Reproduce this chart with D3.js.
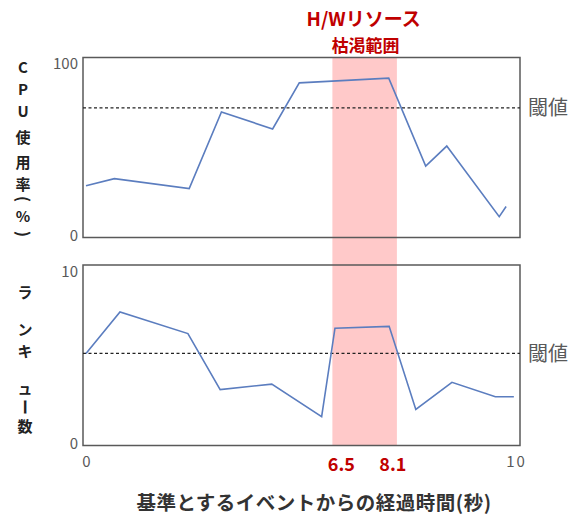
<!DOCTYPE html>
<html>
<head>
<meta charset="utf-8">
<script src="https://cdn.jsdelivr.net/npm/d3@7"></script>
<style>
  body { margin: 0; background: #fff; }
  svg text { font-family: "Noto Sans CJK JP", "Noto Sans", sans-serif; }
</style>
</head>
<body>
<svg width="576" height="517"></svg>
<script>
// data
const cpuTime = [0, 0.66, 2.40, 3.15, 4.34, 4.96, 7.04, 7.90, 8.39, 9.61, 9.77];
const cpuValues = [28.7, 32.7, 27.2, 69.7, 60.3, 85.9, 88.5, 39.7, 50.8, 11.6, 17.2];
const cpuThreshold = 72;

const queueTime = [0, 0.79, 2.37, 3.12, 4.32, 5.48, 5.79, 7.05, 7.67, 8.51, 9.52, 9.95];
const queueValues = [5.1, 7.4, 6.2, 3.1, 3.4, 1.6, 6.5, 6.6, 2.0, 3.5, 2.7, 2.7];
const queueThreshold = 5.1;

const bandRange = [5.73, 7.23];
const bandLabels = ["6.5", "8.1"];
const xTicks = [0, 10];
const cpuTicks = [0, 100];
const queueTicks = [0, 10];

const svg = d3.select("svg");

const x = d3.scaleLinear().domain([0, 10]).range([86, 516]);
const boxLeft = 83, boxRight = 520;

const yCpu = d3.scaleLinear().domain([0, 100]).range([237.5, 57.5]);
const yQueue = d3.scaleLinear().domain([0, 10]).range([445.5, 265]);

// resource exhaustion band, spans both panels
svg.append("rect")
  .attr("x", x(bandRange[0]))
  .attr("width", x(bandRange[1]) - x(bandRange[0]))
  .attr("y", yCpu(100))
  .attr("height", yQueue(0) - yCpu(100))
  .attr("fill", "#ffc9c9");

function panel(y, times, values, threshold, ticks) {
  // box
  svg.append("rect")
    .attr("x", boxLeft).attr("y", y.range()[1])
    .attr("width", boxRight - boxLeft)
    .attr("height", y.range()[0] - y.range()[1])
    .attr("fill", "none")
    .attr("stroke", "#595959")
    .attr("stroke-width", 1.5);

  // threshold
  svg.append("line")
    .attr("x1", boxLeft).attr("x2", boxRight)
    .attr("y1", y(threshold)).attr("y2", y(threshold))
    .attr("stroke", "#222")
    .attr("stroke-width", 1.2)
    .attr("stroke-dasharray", "3,2.5");

  svg.append("text")
    .attr("x", 528).attr("y", y(threshold))
    .attr("dy", "0.36em")
    .attr("font-size", 20)
    .attr("fill", "#595959")
    .text("閾値");

  // series
  const line = d3.line().x((d, i) => x(times[i])).y(d => y(d));
  svg.append("path")
    .datum(values)
    .attr("d", line)
    .attr("fill", "none")
    .attr("stroke", "#5b7dbf")
    .attr("stroke-width", 1.6);

  // y ticks
  const axis = svg.append("g")
    .attr("transform", `translate(${boxLeft - 3},0)`)
    .call(d3.axisLeft(y).tickValues(ticks).tickSize(0).tickPadding(2));
  axis.select(".domain").remove();
  axis.selectAll("text")
    .attr("font-size", 15)
    .attr("fill", "#595959")
    .attr("dy", (d) => d === ticks[1] ? "0.75em" : "0.2em");
}

panel(yCpu, cpuTime, cpuValues, cpuThreshold, cpuTicks);
panel(yQueue, queueTime, queueValues, queueThreshold, queueTicks);

// x ticks
const xAxis = svg.append("g")
  .attr("transform", "translate(0,456)")
  .call(d3.axisBottom(x).tickValues(xTicks).tickSize(0).tickPadding(0));
xAxis.select(".domain").remove();
xAxis.selectAll("text")
  .attr("font-size", 15)
  .attr("fill", "#595959")
  .attr("letter-spacing", (d) => d === 10 ? "2px" : null);

// band labels
svg.append("text")
  .attr("x", x(bandRange[0]) + 9).attr("y", 471)
  .attr("text-anchor", "middle")
  .attr("font-size", 18).attr("font-weight", "bold")
  .attr("fill", "#c00000")
  .text(bandLabels[0]);
svg.append("text")
  .attr("x", x(bandRange[1]) - 4).attr("y", 471)
  .attr("text-anchor", "middle")
  .attr("font-size", 18).attr("font-weight", "bold")
  .attr("fill", "#c00000")
  .text(bandLabels[1]);

// band title
const bandMid = (x(bandRange[0]) + x(bandRange[1])) / 2;
svg.append("text")
  .attr("x", bandMid - 1).attr("y", 26)
  .attr("text-anchor", "middle")
  .attr("font-size", 19).attr("font-weight", "bold")
  .attr("fill", "#c00000")
  .text("H/Wリソース");
svg.append("text")
  .attr("x", bandMid + 1).attr("y", 52)
  .attr("text-anchor", "middle")
  .attr("font-size", 17).attr("font-weight", "bold")
  .attr("fill", "#c00000")
  .text("枯渇範囲");

// x axis title
svg.append("text")
  .attr("x", 314).attr("y", 510)
  .attr("text-anchor", "middle")
  .attr("font-size", 19.5).attr("font-weight", "bold")
  .attr("letter-spacing", "0.5px")
  .attr("fill", "#333")
  .text("基準とするイベントからの経過時間(秒)");

// vertical y titles, one glyph per row: [glyph, y, size, rotated]
const cpuTitle = [["C", 68, 15], ["P", 90, 15], ["U", 112, 15], ["使", 138, 15], ["用", 163, 15],
  ["率", 185, 15], ["(", 199, 16, true], ["%", 217, 15], [")", 234, 16, true]];
const queueTitle = [["ラ", 293, 15], ["ン", 330, 15], ["キ", 352, 15], ["ュ", 389, 15], ["ー", 407, 16, true], ["数", 427, 15]];

function vtitle(chars, cx) {
  svg.append("g").selectAll("text")
    .data(chars)
    .join("text")
    .attr("x", cx)
    .attr("y", d => d[1])
    .attr("dy", "0.36em")
    .attr("text-anchor", "middle")
    .attr("transform", d => d[3] ? `rotate(90,${cx},${d[1]})` : null)
    .attr("font-size", d => d[2])
    .attr("font-weight", "bold")
    .attr("fill", "#222")
    .text(d => d[0]);
}
vtitle(cpuTitle, 23);
vtitle(queueTitle, 25);
</script>
</body>
</html>
